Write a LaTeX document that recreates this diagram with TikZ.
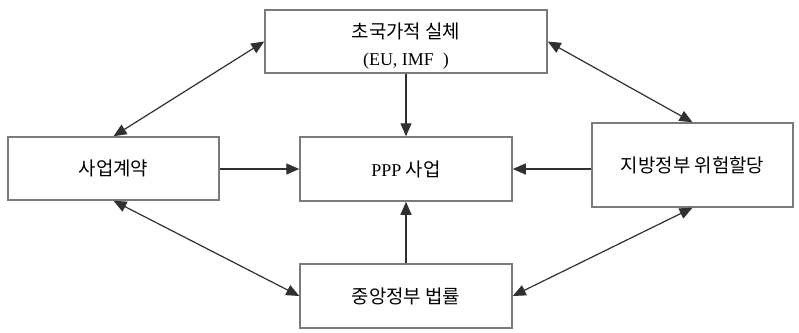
\documentclass[tikz,border=0pt]{standalone}
\usepackage{fontspec}
\setmainfont{Liberation Serif}
\newfontfamily\kr{Noto Sans CJK KR}[Scale=1.05]
\usetikzlibrary{arrows.meta}
\definecolor{boxline}{HTML}{7A7A7A}
\definecolor{arrline}{HTML}{303030}
\tikzset{
  blk/.style={draw=boxline, line width=1.5pt, fill=white, inner sep=0pt,
    align=center, font=\fontsize{18}{27}\selectfont},
  lbl/.style={inner sep=0pt, align=center, font=\fontsize{18}{27}\selectfont},
  tip/.tip={Triangle[length=13pt,width=11pt]},
  arr/.style={draw=arrline, line width=1.2pt, -tip},
  darr/.style={draw=arrline, line width=1.2pt, tip-tip}
}
\begin{document}
\begin{tikzpicture}[x=1pt,y=-1pt]
\useasboundingbox[fill=white] (0,0) rectangle (799,332);
% boxes
\node[blk, minimum width=282pt, minimum height=63pt] (top) at (406,41.5) {};
\node[lbl] (toptxt) at (406,46) {{\kr 초국가적 실체}\\(EU, IMF\ \ )};
\node[blk, minimum width=211pt, minimum height=63pt] (lft) at (113.5,168.5)
  {\kr 사업계약};
\node[blk, minimum width=212pt, minimum height=64pt] (ctr) at (406,169)
  {PPP {\kr 사업}};
\node[blk, minimum width=201pt, minimum height=84pt] (rgt) at (692.5,165)
  {\kr 지방정부 위험할당};
\node[blk, minimum width=212pt, minimum height=64pt] (bot) at (406,296)
  {\kr 중앙정부 법률};
% straight arrows into the PPP box
\draw[arr] (top.south) -- (ctr.north);
\draw[arr] (bot.north) -- (ctr.south);
\draw[arr] (lft.east |- ctr.west) -- (ctr.west);
\draw[arr] (rgt.west |- ctr.east) -- (ctr.east);
% two-way links around the outside
\draw[darr] (top.west) -- (lft.north);
\draw[darr] (top.east) -- (rgt.north);
\draw[darr] (lft.south) -- (bot.west);
\draw[darr] (rgt.south) -- (bot.east);
\end{tikzpicture}
\end{document}
